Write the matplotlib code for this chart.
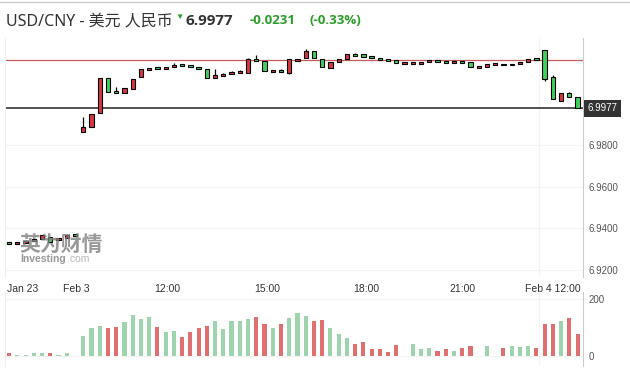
import matplotlib
matplotlib.use("Agg")
import matplotlib.pyplot as plt
import matplotlib.transforms as mtransforms

# 15-minute candles, Jan 23 tail then Feb 3 / Feb 4
opens = [6.9327, 6.9325, 6.9333, 6.9337, 6.9347, 6.9358, 6.9346, 6.9353, 6.9367,
         6.9861, 6.9885, 6.9953, 7.0121, 7.0060, 7.0049, 7.0068, 7.0126, 7.0165, 7.0171,
         7.0170, 7.0177, 7.0185, 7.0182, 7.0175, 7.0165, 7.0121, 7.0139, 7.0145, 7.0150,
         7.0148, 7.0213, 7.0203, 7.0157, 7.0158, 7.0146, 7.0211, 7.0218, 7.0252, 7.0213,
         7.0173, 7.0199, 7.0213, 7.0237, 7.0237, 7.0223, 7.0218, 7.0209, 7.0208, 7.0194,
         7.0193, 7.0194, 7.0199, 7.0207, 7.0200, 7.0199, 7.0200, 7.0199, 7.0175, 7.0175,
         7.0189, 7.0189, 7.0188, 7.0189, 7.0199, 7.0216, 7.0256, 7.0126, 7.0014, 7.0052,
         7.0030]
highs = [6.9327, 6.9327, 6.9335, 6.9347, 6.9366, 6.9358, 6.9348, 6.9366, 6.9367,
         6.9934, 6.9948, 7.0121, 7.0121, 7.0078, 7.0073, 7.0117, 7.0165, 7.0171, 7.0171,
         7.0171, 7.0194, 7.0185, 7.0182, 7.0175, 7.0165, 7.0165, 7.0147, 7.0155, 7.0160,
         7.0218, 7.0234, 7.0203, 7.0158, 7.0168, 7.0213, 7.0212, 7.0261, 7.0252, 7.0213,
         7.0200, 7.0213, 7.0237, 7.0242, 7.0237, 7.0230, 7.0218, 7.0209, 7.0208, 7.0194,
         7.0194, 7.0200, 7.0208, 7.0207, 7.0200, 7.0200, 7.0200, 7.0199, 7.0175, 7.0189,
         7.0189, 7.0189, 7.0189, 7.0200, 7.0215, 7.0216, 7.0256, 7.0137, 7.0049, 7.0057,
         7.0030]
lows = [6.9325, 6.9325, 6.9333, 6.9337, 6.9347, 6.9331, 6.9346, 6.9353, 6.9366,
        6.9861, 6.9885, 6.9953, 7.0054, 7.0049, 7.0049, 7.0068, 7.0126, 7.0165, 7.0170,
        7.0170, 7.0177, 7.0184, 7.0181, 7.0165, 7.0121, 7.0121, 7.0139, 7.0145, 7.0150,
        7.0148, 7.0203, 7.0155, 7.0157, 7.0157, 7.0141, 7.0211, 7.0218, 7.0218, 7.0175,
        7.0173, 7.0199, 7.0213, 7.0232, 7.0223, 7.0222, 7.0208, 7.0208, 7.0194, 7.0194,
        7.0193, 7.0194, 7.0199, 7.0206, 7.0199, 7.0199, 7.0199, 7.0175, 7.0175, 7.0175,
        7.0189, 7.0188, 7.0188, 7.0189, 7.0199, 7.0215, 7.0108, 7.0020, 7.0014, 7.0030,
        6.9977]
closes = [6.9325, 6.9327, 6.9335, 6.9347, 6.9366, 6.9331, 6.9348, 6.9366, 6.9366,
          6.9885, 6.9948, 7.0121, 7.0054, 7.0049, 7.0073, 7.0117, 7.0165, 7.0171, 7.0170,
          7.0171, 7.0186, 7.0184, 7.0181, 7.0165, 7.0121, 7.0137, 7.0140, 7.0146, 7.0151,
          7.0213, 7.0203, 7.0155, 7.0158, 7.0157, 7.0213, 7.0212, 7.0252, 7.0218, 7.0175,
          7.0200, 7.0213, 7.0237, 7.0232, 7.0223, 7.0222, 7.0208, 7.0208, 7.0194, 7.0194,
          7.0194, 7.0200, 7.0208, 7.0206, 7.0199, 7.0200, 7.0199, 7.0175, 7.0175, 7.0189,
          7.0189, 7.0188, 7.0189, 7.0200, 7.0215, 7.0215, 7.0120, 7.0020, 7.0049, 7.0030,
          6.9977]
volumes = [9, 4, 4, 9, 11, 9, 4, 9, 0,
           70, 97, 105, 97, 102, 119, 144, 129, 136, 102,
           84, 88, 67, 84, 97, 105, 123, 95, 123, 123,
           129, 137, 112, 97, 112, 132, 150, 140, 123, 126,
           97, 77, 62, 42, 48, 23, 23, 14, 39, 0,
           44, 25, 27, 18, 23, 18, 27, 35, 0, 35,
           0, 30, 35, 32, 35, 30, 112, 114, 123, 132,
           77]

time_labels = ['Jan 23', 'Feb 3', '12:00', '15:00', '18:00', '21:00', 'Feb 4 12:00']
label_pos = [1.7, 8.1, 19.2, 31.3, 43.4, 55.0, 66.0]
grid_pos = [8.1, 19.2, 31.3, 43.4, 55.0, 64.3]
price_ticks = [6.92, 6.94, 6.96, 6.98]

last_price = 6.9977
prev_close = 7.0208
change = '-0.0231'
change_pct = '(-0.33%)'

RED = '#d9363e'
GREEN = '#3fd15a'
VOL_RED = '#e07070'
VOL_GREEN = '#9dd4ae'

plt.rcParams['font.family'] = ['Liberation Sans', 'Noto Sans CJK SC', 'DejaVu Sans']

fig = plt.figure(figsize=(6.3, 3.72), dpi=100)
W, H = 630, 372


def box(x0, y0, x1, y1):
    return [x0 / W, 1 - y1 / H, (x1 - x0) / W, (y1 - y0) / H]


ax = fig.add_axes(box(5, 38, 583, 277))
axv = fig.add_axes(box(5, 292, 583, 366), sharex=ax)

n = len(closes)
xs = list(range(n))
body_w = 0.52
min_h = 0.0009

# candles: red = up, green = down
for i in xs:
    o, h, l, c = opens[i], highs[i], lows[i], closes[i]
    col = RED if c >= o else GREEN
    lo_b = min(o, c)
    hb = abs(c - o)
    if hb < min_h:
        lo_b = (o + c) / 2 - min_h / 2
        hb = min_h
    ax.vlines(i, l, h, color='black', lw=0.9, zorder=3)
    ax.bar(i, hb, bottom=lo_b, width=body_w, color=col, edgecolor='black',
           linewidth=0.8, zorder=4)

ax.axhline(prev_close, color='#c75b5b', lw=0.9, zorder=2)
ax.axhline(last_price, color='#333333', lw=1.2, zorder=2)

ax.set_xlim(-0.5, 69.66)
ax.set_ylim(6.9164, 7.0316)
ax.yaxis.tick_right()
ax.set_yticks(price_ticks)
ax.set_yticklabels(['%.4f' % v for v in price_ticks])
ax.tick_params(axis='y', length=0, labelsize=7, labelcolor='#555555', pad=4)
ax.set_xticks(label_pos)
ax.set_xticklabels(time_labels)
ax.tick_params(axis='x', length=0, labelsize=7.5, labelcolor='#333333', pad=5)
ax.set_xticks(grid_pos, minor=True)
ax.tick_params(axis='x', which='minor', length=0)
ax.grid(False)
ax.grid(axis='y', color='#f3f3f3', lw=0.8)
ax.grid(axis='x', which='minor', color='#f3f3f3', lw=0.8)
for s in ['top', 'bottom']:
    ax.spines[s].set_visible(False)
ax.spines['left'].set_color('#eeeeee')
ax.spines['right'].set_color('#cccccc')

# current price tag
trans = mtransforms.blended_transform_factory(ax.transAxes, ax.transData)
ax.text(1.008, last_price, '%.4f' % last_price, transform=trans, ha='left', va='center',
        fontsize=7, color='white', zorder=10, clip_on=False,
        bbox=dict(boxstyle='square,pad=0.35', fc='#333333', ec='none'))

# volume
vcols = [VOL_GREEN if closes[i] >= opens[i] else VOL_RED for i in xs]
axv.bar(xs, volumes, width=0.5, color=vcols, zorder=3)
axv.set_ylim(-35, 225)
axv.yaxis.tick_right()
axv.set_yticks([0, 200])
axv.tick_params(axis='y', length=0, labelsize=7, labelcolor='#555555', pad=4)
axv.tick_params(axis='x', which='both', length=0, labelbottom=False)
axv.grid(axis='y', color='#f3f3f3', lw=0.8)
axv.grid(axis='x', which='minor', color='#f3f3f3', lw=0.8)
for s in ['top', 'bottom']:
    axv.spines[s].set_visible(False)
axv.spines['left'].set_color('#eeeeee')
axv.spines['right'].set_color('#cccccc')

# watermark
fig.text(19 / W, 1 - 244 / H, '英为财情', fontsize=15, fontweight='bold',
         color='#7f7f7f', alpha=0.8, family=['Noto Sans CJK SC'], va='center', zorder=5)
fig.text(20 / W, 1 - 259 / H, 'Investing', fontsize=7.5, fontweight='bold',
         color='#7f7f7f', alpha=0.8, va='center', zorder=5)
fig.text(67 / W, 1 - 259 / H, '.com', fontsize=7.5,
         color='#9a9a9a', alpha=0.7, va='center', zorder=5)

# header
fig.add_artist(plt.Line2D([0, 1], [1 - 2 / H, 1 - 2 / H], color='#cccccc', lw=1))
fig.text(6 / W, 1 - 21 / H, 'USD/CNY - 美元 人民币', fontsize=11.5, color='#333333',
         va='center', family=['Noto Sans', 'Noto Sans CJK SC'])
fig.text(175 / W, 1 - 17 / H, '▼', fontsize=6, color='#2a9d2a', va='center')
fig.text(186 / W, 1 - 21 / H, '%.4f' % last_price, fontsize=11, fontweight='bold',
         color='#333333', va='center', family=['Open Sans'])
fig.text(250 / W, 1 - 21 / H, change, fontsize=9.5, fontweight='bold',
         color='#2a9d2a', va='center', family=['Open Sans'])
fig.text(310 / W, 1 - 21 / H, change_pct, fontsize=9.5, fontweight='bold',
         color='#2a9d2a', va='center', family=['Open Sans'])

fig.savefig('out.png', dpi=100)
